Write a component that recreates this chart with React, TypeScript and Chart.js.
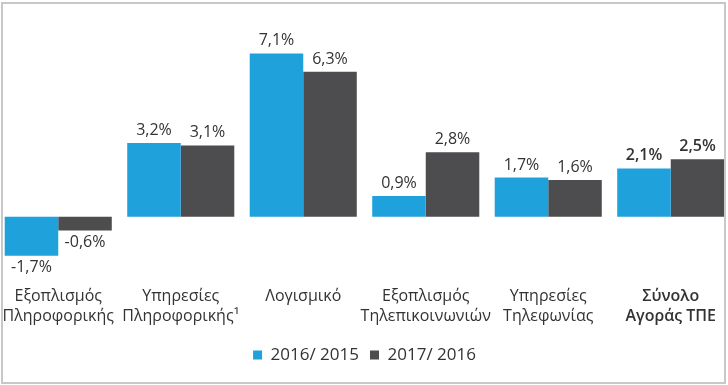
import React, { useEffect, useRef } from "react";
import { Chart, registerables } from "chart.js";

Chart.register(...registerables);

const categories: string[][] = [
  ["Εξοπλισμός", "Πληροφορικής"],
  ["Υπηρεσίες", "Πληροφορικής¹"],
  ["Λογισμικό"],
  ["Εξοπλισμός", "Τηλεπικοινωνιών"],
  ["Υπηρεσίες", "Τηλεφωνίας"],
  ["Σύνολο", "Αγοράς ΤΠΕ"],
];
const series2016: number[] = [-1.7, 3.2, 7.1, 0.9, 1.7, 2.1];
const series2017: number[] = [-0.6, 3.1, 6.3, 2.8, 1.6, 2.5];
const seriesNames: string[] = ["2016/ 2015", "2017/ 2016"];
const boldIndex = 5;

const FONT = '"Open Sans", "Noto Sans", sans-serif';
const TEXT = "#333333";

const valueLabels = {
  id: "valueLabels",
  afterDatasetsDraw(chart: any) {
    const ctx = chart.ctx;
    chart.data.datasets.forEach((ds: any, di: number) => {
      const meta = chart.getDatasetMeta(di);
      meta.data.forEach((bar: any, i: number) => {
        const v = ds.data[i] as number;
        const txt = v.toFixed(1).replace(".", ",") + "%";
        ctx.save();
        ctx.font = `${i === boldIndex ? "600 " : ""}16px ${FONT}`;
        ctx.fillStyle = TEXT;
        ctx.textAlign = "center";
        if (v >= 0) {
          ctx.textBaseline = "alphabetic";
          ctx.fillText(txt, bar.x, bar.y - 8);
        } else {
          ctx.textBaseline = "top";
          ctx.fillText(txt, bar.x, bar.y + 4);
        }
        ctx.restore();
      });
    });
  },
};

export default function App() {
  const ref = useRef<HTMLCanvasElement | null>(null);
  useEffect(() => {
    if (!ref.current) return;
    const chart = new Chart(ref.current, {
      type: "bar",
      data: {
        labels: categories,
        datasets: [
          {
            label: seriesNames[0],
            data: series2016,
            backgroundColor: "#1fa1db",
            borderWidth: 0,
            barPercentage: 1.0,
            categoryPercentage: 0.874,
          },
          {
            label: seriesNames[1],
            data: series2017,
            backgroundColor: "#4d4d4f",
            borderWidth: 0,
            barPercentage: 1.0,
            categoryPercentage: 0.874,
          },
        ],
      },
      options: {
        animation: false,
        responsive: false,
        maintainAspectRatio: false,
        layout: { padding: { top: 32.7, left: 0, right: 0, bottom: 11.5 } },
        plugins: {
          tooltip: { enabled: false },
          legend: {
            position: "bottom",
            labels: {
              boxWidth: 9,
              boxHeight: 9,
              padding: 11,
              color: TEXT,
              font: { family: FONT, size: 17 },
            },
          },
        },
        scales: {
          x: {
            grid: {
              display: true,
              drawOnChartArea: false,
              drawTicks: true,
              tickLength: 24,
              color: "rgba(0,0,0,0)",
              tickColor: "rgba(0,0,0,0)",
            },
            border: { display: false },
            ticks: {
              color: TEXT,
              padding: 0,
              maxRotation: 0,
              autoSkip: false,
              font: (c: any) => ({
                family: FONT,
                size: 16,
                lineHeight: 20 / 16,
                weight: c.index === boldIndex ? "600" : "normal",
              }),
            },
            afterFit: (scale: any) => {
              scale.height = 72.8;
            },
          },
          y: {
            display: false,
            min: -2,
            max: 8,
          },
        },
      },
      plugins: [valueLabels],
    });
    return () => chart.destroy();
  }, []);

  return (
    <div
      style={{
        position: "fixed",
        left: 0,
        top: 0,
        width: 728,
        height: 385,
        overflow: "hidden",
        background: "#ffffff",
      }}
    >
      <canvas
        ref={ref}
        width={735}
        height={385}
        style={{ position: "absolute", left: -3, top: 0, width: 735, height: 385 }}
      />
      <div
        style={{
          position: "absolute",
          left: 1,
          top: 2,
          width: 725,
          height: 382,
          boxSizing: "border-box",
          border: "2px solid #c8c8c8",
          pointerEvents: "none",
        }}
      />
    </div>
  );
}
